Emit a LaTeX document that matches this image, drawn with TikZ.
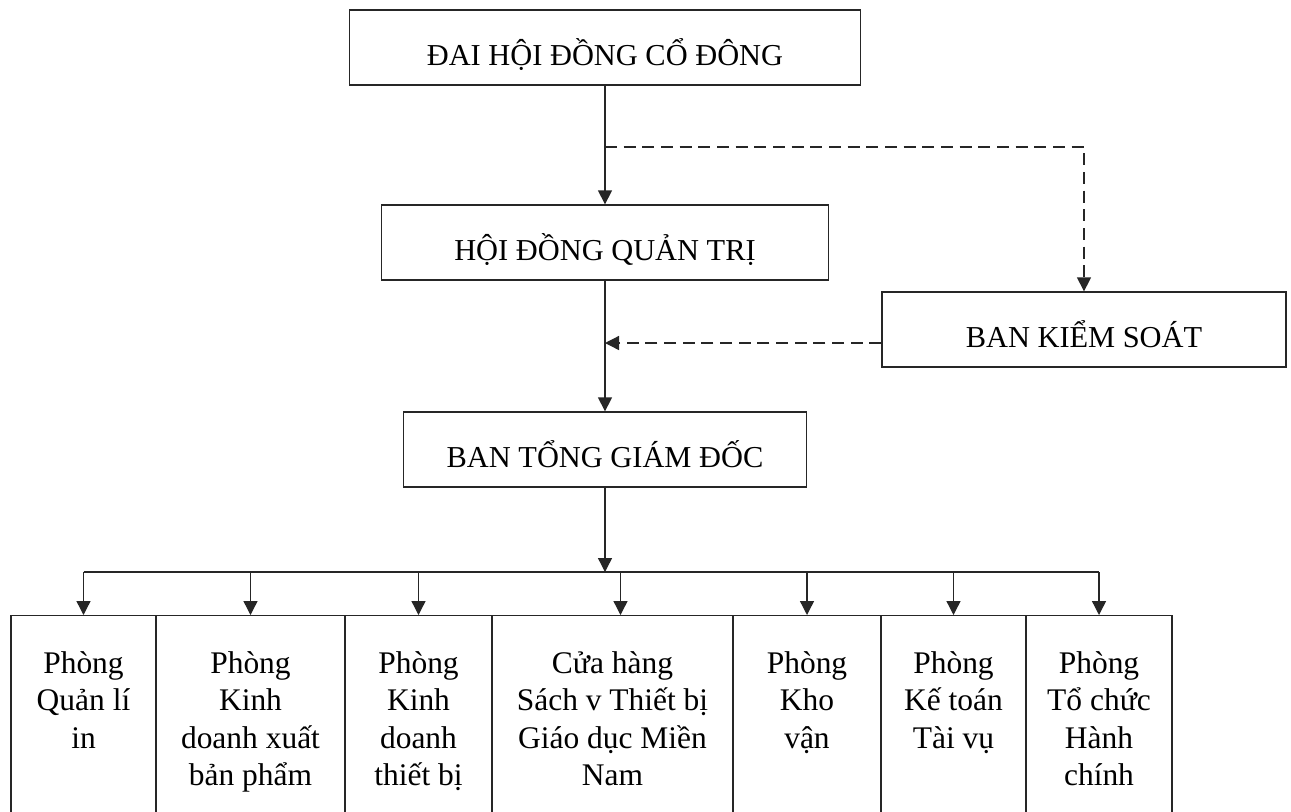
\documentclass[tikz,border=0pt]{standalone}
\usepackage{fontspec}
\setmainfont{Liberation Serif}
\usetikzlibrary{positioning,arrows.meta}
\tikzset{
  khung/.style={draw=black!85, line width=1pt, fill=white, inner sep=0pt},
  chu/.style={font=\fontsize{22.8}{27}\selectfont, text height=27pt, text depth=0pt},
  phong/.style={khung, minimum height=220*0.75pt, anchor=north},
  chuphong/.style={inner sep=0pt, align=center, font=\fontsize{23.6}{28.1}\selectfont},
  muiten/.style={-{Triangle[length=10.5pt,width=10.5pt]}, line width=1pt, draw=black!85},
  netdut/.style={dash pattern=on 9pt off 5pt}
}
\begin{document}
\begin{tikzpicture}[x=0.75pt,y=-0.75pt]
            \useasboundingbox (0,0) rectangle (1291,811);
            \clip (0,0) rectangle (1291,811);
            \fill[white] (0,0) rectangle (1291,811);

            %khung tren
            \node[khung, chu, minimum width=511*0.75pt, minimum height=75*0.75pt] (dhdcd) at (605,47.5) {ĐAI HỘI ĐỒNG CỔ ĐÔNG};
            \node[khung, chu, minimum width=447*0.75pt, minimum height=75*0.75pt] (hdqt) at (605,242.5) {HỘI ĐỒNG QUẢN TRỊ};
            \node[khung, chu, minimum width=404*0.75pt, minimum height=75*0.75pt] (bks) at (1084,329.5) {BAN KIỂM SOÁT};
            \node[khung, chu, minimum width=403*0.75pt, minimum height=75*0.75pt] (btgd) at (605,449.5) {BAN TỔNG GIÁM ĐỐC};

            %cac phong
            \node[phong, minimum width=145*0.75pt] (p1) at (83.5,615) {};
            \node[phong, minimum width=189*0.75pt] (p2) at (250.5,615) {};
            \node[phong, minimum width=147*0.75pt] (p3) at (418.5,615) {};
            \node[phong, minimum width=241*0.75pt] (p4) at (612.5,615) {};
            \node[phong, minimum width=148*0.75pt] (p5) at (807,615) {};
            \node[phong, minimum width=145*0.75pt] (p6) at (953.5,615) {};
            \node[phong, minimum width=146*0.75pt] (p7) at (1099,615) {};

            \node[chuphong, below=27pt of p1.north] (t1) {Phòng\\Quản lí\\in};
            \node[chuphong, below=27pt of p2.north] (t2) {Phòng\\Kinh\\doanh xuất\\bản phẩm};
            \node[chuphong, below=27pt of p3.north] (t3) {Phòng\\Kinh\\doanh\\thiết bị};
            \node[chuphong, below=27pt of p4.north] (t4) {Cửa hàng\\Sách v Thiết bị\\Giáo dục Miền\\Nam};
            \node[chuphong, below=27pt of p5.north] (t5) {Phòng\\Kho\\vận};
            \node[chuphong, below=27pt of p6.north] (t6) {Phòng\\Kế toán\\Tài vụ};
            \node[chuphong, below=27pt of p7.north] (t7) {Phòng\\Tổ chức\\Hành\\chính};

            %diem noi
            \coordinate (re) at (605,147);
            \coordinate (kx) at (605,343);
            \coordinate (bus) at (605,572);

            %mui ten
            \draw[muiten] (dhdcd.south) -- (hdqt.north);
            \draw[muiten] (hdqt.south) -- (btgd.north);
            \draw[muiten, netdut] (re) -| (bks.north);
            \draw[muiten, netdut] (bks.west |- kx) -- (kx);
            \draw[muiten] (btgd.south) -- (bus);
            \draw[line width=1pt, draw=black!85] (p1.north |- bus) -- (p7.north |- bus);
            \draw[muiten] (p1.north |- bus) -- (p1.north);
            \draw[muiten] (p2.north |- bus) -- (p2.north);
            \draw[muiten] (p3.north |- bus) -- (p3.north);
            \draw[muiten] ([xshift=6pt]p4.north |- bus) -- ([xshift=6pt]p4.north);
            \draw[muiten] (p5.north |- bus) -- (p5.north);
            \draw[muiten] (p6.north |- bus) -- (p6.north);
            \draw[muiten] (p7.north |- bus) -- (p7.north);
        \end{tikzpicture}
\end{document}
